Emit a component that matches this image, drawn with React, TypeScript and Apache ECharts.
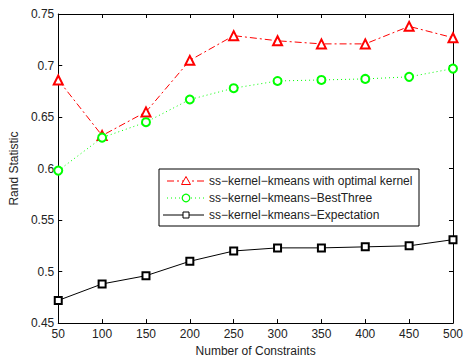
import React, { useEffect, useRef } from "react";
import * as echarts from "echarts";

const constraints = [50, 100, 150, 200, 250, 300, 350, 400, 450, 500];
const optimalKernel = [0.686, 0.632, 0.655, 0.705, 0.729, 0.724, 0.721, 0.721, 0.738, 0.727];
const bestThree = [0.598, 0.630, 0.645, 0.667, 0.678, 0.685, 0.686, 0.687, 0.689, 0.697];
const expectation = [0.472, 0.488, 0.496, 0.510, 0.520, 0.523, 0.523, 0.524, 0.525, 0.531];
const seriesNames = [
  "ss\u2212kernel\u2212kmeans with optimal kernel",
  "ss\u2212kernel\u2212kmeans\u2212BestThree",
  "ss\u2212kernel\u2212kmeans\u2212Expectation",
];

const FONT = "'Liberation Sans', Arial, sans-serif";
const FS = 12;
const RED = "#ff0000";
const GREEN = "#00ff00";
const BLACK = "#000000";
const DASHDOT = [7, 3, 2, 3];
const DOTTED = [1, 3];

export default function App() {
  const ref = useRef<HTMLDivElement>(null);
  useEffect(() => {
    if (!ref.current) return;
    const chart = echarts.init(ref.current, undefined, { renderer: "svg" });
    const pair = (ys: number[]) => constraints.map((x, i) => [x, ys[i]]);
    const axisCommon = {
      axisLine: { show: true, onZero: false, lineStyle: { color: "#000", width: 1 } },
      axisTick: { show: true, inside: true, length: 4, lineStyle: { color: "#000" } },
      splitLine: { show: false },
    };
    const lx0 = 167, lx1 = 204, lxm = 186;
    const ly = [181, 198, 215];
    chart.setOption({
      animation: false,
      backgroundColor: "#fff",
      grid: { left: 57, top: 14, right: 10, bottom: 34, containLabel: false },
      xAxis: [
        {
          type: "value", min: 50, max: 500, interval: 50, position: "bottom",
          ...axisCommon,
          axisLabel: { show: true, margin: 5, color: "#222", fontSize: FS, fontFamily: FONT },
          name: "Number of Constraints", nameLocation: "middle", nameGap: 18,
          nameTextStyle: { color: "#222", fontSize: FS, fontFamily: FONT },
        },
        {
          type: "value", min: 50, max: 500, interval: 50, position: "top",
          ...axisCommon, axisLabel: { show: false },
        },
      ],
      yAxis: [
        {
          type: "value", min: 0.45, max: 0.75, interval: 0.05, position: "left",
          ...axisCommon,
          axisLabel: { show: true, margin: 4, color: "#222", fontSize: FS, fontFamily: FONT },
          name: "Rand Statistic", nameLocation: "middle", nameGap: 34,
          nameTextStyle: { color: "#222", fontSize: FS, fontFamily: FONT },
        },
        {
          type: "value", min: 0.45, max: 0.75, interval: 0.05, position: "right",
          ...axisCommon, axisLabel: { show: false },
        },
      ],
      series: [
        {
          name: seriesNames[0], type: "line", data: pair(optimalKernel),
          symbol: "emptyTriangle", symbolSize: 9,
          lineStyle: { color: RED, width: 1, type: DASHDOT },
          itemStyle: { color: RED, borderColor: RED, borderWidth: 1 },
        },
        {
          name: seriesNames[1], type: "line", data: pair(bestThree),
          symbol: "emptyCircle", symbolSize: 8,
          lineStyle: { color: GREEN, width: 1, type: DOTTED },
          itemStyle: { color: GREEN, borderColor: GREEN, borderWidth: 1 },
        },
        {
          name: seriesNames[2], type: "line", data: pair(expectation),
          symbol: "emptyRect", symbolSize: 7,
          lineStyle: { color: BLACK, width: 1 },
          itemStyle: { color: BLACK, borderColor: BLACK, borderWidth: 1 },
        },
      ],
      graphic: [
        {
          type: "rect", shape: { x: 159, y: 169, width: 260, height: 57 },
          style: { fill: "#fff", stroke: "#000", lineWidth: 1 }, z: 100,
        },
        {
          type: "line", shape: { x1: lx0, y1: ly[0], x2: lx1, y2: ly[0] },
          style: { stroke: RED, lineWidth: 1, lineDash: DASHDOT }, z: 101,
        },
        {
          type: "polygon",
          shape: { points: [[lxm, ly[0] - 4.5], [lxm - 4.5, ly[0] + 3.5], [lxm + 4.5, ly[0] + 3.5]] },
          style: { fill: "#fff", stroke: RED, lineWidth: 1 }, z: 102,
        },
        {
          type: "line", shape: { x1: lx0, y1: ly[1], x2: lx1, y2: ly[1] },
          style: { stroke: GREEN, lineWidth: 1, lineDash: DOTTED }, z: 101,
        },
        {
          type: "circle", shape: { cx: lxm, cy: ly[1], r: 3.8 },
          style: { fill: "#fff", stroke: GREEN, lineWidth: 1.2 }, z: 102,
        },
        {
          type: "line", shape: { x1: lx0 - 4, y1: ly[2], x2: lx1, y2: ly[2] },
          style: { stroke: BLACK, lineWidth: 1 }, z: 101,
        },
        {
          type: "rect", shape: { x: lxm - 3, y: ly[2] - 3, width: 6, height: 6 },
          style: { fill: "#fff", stroke: BLACK, lineWidth: 1 }, z: 102,
        },
        ...seriesNames.map((n, i) => ({
          type: "text", x: 209, y: ly[i],
          style: { text: n, fill: "#222", font: `${FS}px ${FONT}`, textVerticalAlign: "middle", verticalAlign: "middle" },
          z: 102,
        })),
      ],
    });
    return () => chart.dispose();
  }, []);
  return <div ref={ref} style={{ width: 466, height: 362, position: "absolute", left: 0, top: 0 }} />;
}
